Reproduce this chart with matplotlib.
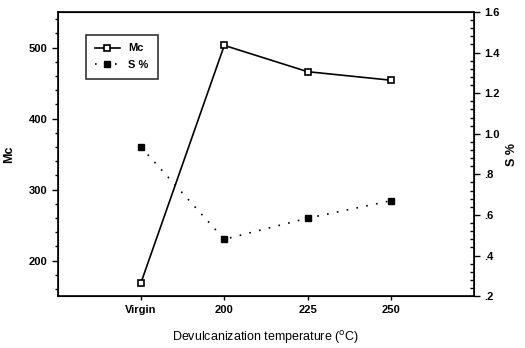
import matplotlib
matplotlib.use("Agg")
import matplotlib.pyplot as plt
from matplotlib.ticker import MultipleLocator, FixedLocator, FuncFormatter

plt.rcParams['font.family'] = ['Liberation Sans', 'DejaVu Sans']

categories = ["Virgin", "200", "225", "250"]
mc_values = [169, 503, 466, 454]
s_values = [0.934, 0.48, 0.584, 0.67]

fig = plt.figure(figsize=(5.25, 3.48), dpi=100)
ax = fig.add_axes([0.110, 0.149, 0.793, 0.8165])
x = list(range(1, len(categories) + 1))

l1, = ax.plot(x, mc_values, color='black', lw=1.2, marker='s', ms=5,
              mfc='white', mec='black', mew=1.2, label='Mc')
ax.set_xlim(0, 5)
ax.set_ylim(150, 550)
ax.yaxis.set_minor_locator(MultipleLocator(20))
ax.set_yticks([200, 300, 400, 500])
ax.set_xticks(x)
ax.set_xticklabels(categories)
ax.tick_params(axis='x', which='major', direction='out', length=3, width=1)
ax.tick_params(axis='y', which='major', direction='out', length=4, width=1)
ax.tick_params(axis='y', which='minor', direction='out', length=2, width=1)
for lab in ax.get_xticklabels() + ax.get_yticklabels():
    lab.set_fontsize(8)
    lab.set_fontweight('bold')
for s in ax.spines.values():
    s.set_linewidth(1.2)
ax.set_ylabel('Mc', fontsize=9, fontweight='bold', labelpad=10)
ax.set_xlabel('Devulcanization temperature ($^{\\mathrm{o}}$C)', fontsize=9, labelpad=10)

ax2 = ax.twinx()
l2, = ax2.plot(x, s_values, color='black', lw=1.2, ls=(0, (1, 5)), marker='s', ms=5,
               mfc='black', mec='black', label='S %')
ax2.set_ylim(0.2, 1.6)
ax2.yaxis.set_major_locator(FixedLocator([0.2, 0.4, 0.6, 0.8, 1.0, 1.2, 1.4, 1.6]))
ax2.yaxis.set_minor_locator(MultipleLocator(0.04))

def fmt(v, pos):
    s = f"{v:.1f}"
    if v < 1:
        s = s[1:]
    return s

ax2.yaxis.set_major_formatter(FuncFormatter(fmt))
ax2.tick_params(axis='y', which='major', direction='out', length=4, width=1)
ax2.tick_params(axis='y', which='minor', direction='in', length=3, width=1)
for lab in ax2.get_yticklabels():
    lab.set_fontsize(8)
    lab.set_fontweight('bold')
ax2.set_ylabel('S %', fontsize=9, fontweight='bold', labelpad=4)

leg = ax.legend(handles=[l1, l2], loc='upper left', bbox_to_anchor=(0.055, 0.94),
                fontsize=8, frameon=True, fancybox=False, edgecolor='black',
                handlelength=2.2, borderpad=0.8, labelspacing=0.6)
leg.get_frame().set_linewidth(1.2)
for t in leg.get_texts():
    t.set_fontweight('bold')

fig.savefig('out.png', dpi=100)
